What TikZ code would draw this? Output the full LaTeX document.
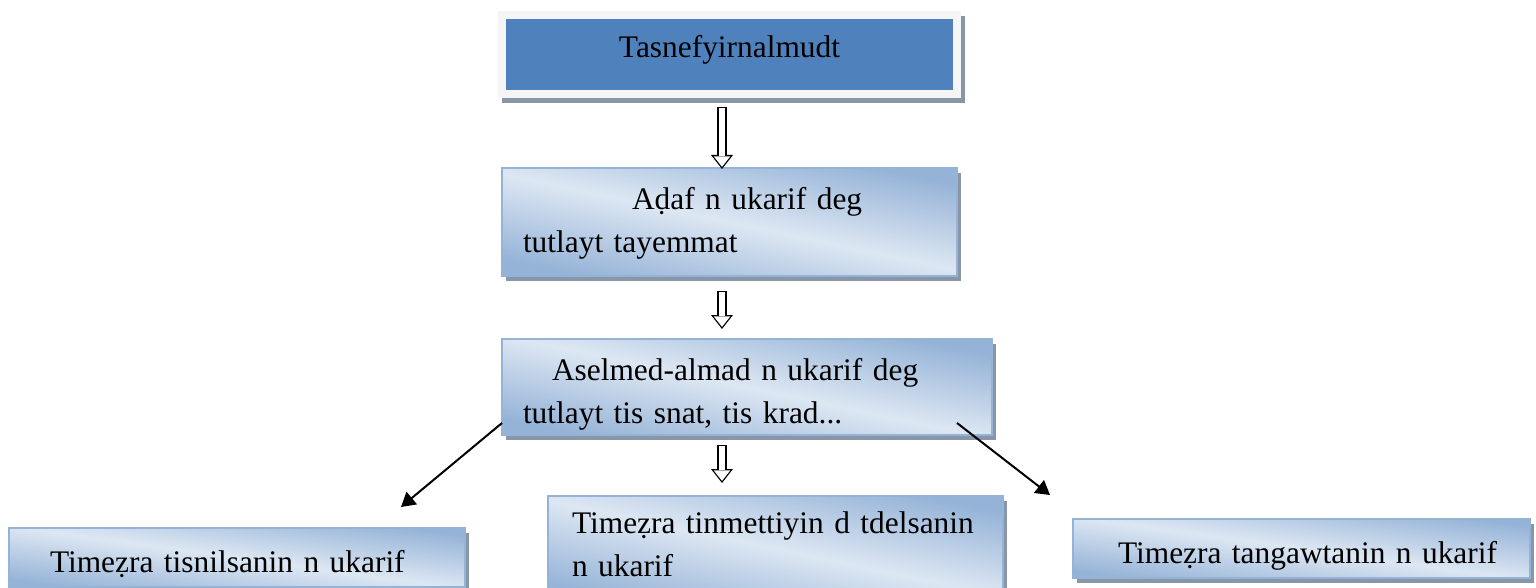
\documentclass[tikz,border=0pt]{standalone}
\usepackage{fontspec}
\setmainfont{Liberation Serif}
\usetikzlibrary{arrows.meta,positioning,shadows}

\definecolor{titleblue}{RGB}{79,129,189}
\definecolor{edgeblue}{RGB}{149,179,215}
\definecolor{paleblue}{RGB}{221,231,243}
\definecolor{shadowgray}{RGB}{137,150,168}

\begin{document}
\begin{tikzpicture}[
				x=0.5pt,y=-0.5pt,
				every node/.style={on grid,outer sep=0pt,font=\fontsize{15.7pt}{21.5pt}\selectfont},
				titlebox/.style={draw=gray!8,line width=4pt,fill=titleblue,
					minimum width=227.5pt,minimum height=39.5pt,text height=7.5pt,text depth=4pt,
					drop shadow={shadow xshift=1.75pt,shadow yshift=-2.5pt,draw=shadowgray,line width=4pt,fill=shadowgray,opacity=1}},
				gradbox/.style={draw=edgeblue,line width=0.8pt,
					top color=edgeblue,bottom color=edgeblue,middle color=paleblue,shading angle=-12,
					inner xsep=10.5pt,inner ysep=0pt,align=left,
					drop shadow={shadow xshift=1.75pt,shadow yshift=-2.5pt,fill=shadowgray,opacity=1}},
				oneline/.style={gradbox,shading angle=-8,minimum height=29.5pt,text height=18.5pt,text depth=4pt},
				hollow/.style={white,line width=3.45pt,shorten <=0.65pt,shorten >=1.05pt,
					-{Triangle[length=5.3pt,width=8.3pt,line width=0pt]},
					preaction={draw=black,line width=4.75pt,shorten <=0pt,shorten >=0pt,
						-{Triangle[length=7pt,width=11pt,line width=0pt]}}},
				pointer/.style={->,line width=1pt},
				>={Triangle[length=7pt,width=8pt]}
				]
				\useasboundingbox (0,0) rectangle (1536,588);
				
				% the column of boxes
				\node[titlebox] (title) at (729.5,54.5) {Tasnefyirnalmudt};
				\node[gradbox,below=83.75pt of title,minimum width=227.5pt,minimum height=54pt,
					text width=206.5pt,text height=13.5pt,text depth=25.5pt] (adaf)
					{\hspace*{54.5pt}Aḍaf n ukarif deg\\tutlayt tayemmat};
				\node[gradbox,below=82.5pt of adaf,xshift=8.75pt,minimum width=245pt,minimum height=48pt,
					text width=224pt,text height=18.5pt,text depth=25.5pt] (aselmed)
					{\hspace*{14.5pt}Aselmed-almad n ukarif deg\\tutlayt tis snat, tis krad...};
				
				% the three kinds
				\node[gradbox,below=80.75pt of aselmed,xshift=14.25pt,minimum width=227.5pt,minimum height=52.5pt,
					inner xsep=0pt,text width=227.5pt,text height=10pt,text depth=25.5pt] (tinmett)
					{\hspace*{12pt}Timeẓra tinmettiyin d tdelsanin\\\hspace*{12pt}n ukarif};
				\node[oneline,below left=85.25pt and 255pt of aselmed,minimum width=228pt,
					text width=207pt] (tisnil)
					{\hspace*{10pt}Timeẓra tisnilsanin n ukarif};
				\node[oneline,below right=80.75pt and 277.25pt of aselmed,minimum width=228.5pt,
					text width=207.5pt] (tangaw)
					{\hspace*{12pt}Timeẓra tangawtanin n ukarif};
				
				% the arrows
				\draw[hollow] ([xshift=-3.75pt,yshift=-6.5pt]title.south) -- ([xshift=-3.75pt,yshift=-0.5pt]adaf.north);
				\draw[hollow] ([xshift=-3.75pt,yshift=-7.5pt]adaf.south) -- ([xshift=-12.5pt,yshift=5pt]aselmed.north);
				\draw[hollow] ([xshift=-12.5pt,yshift=-5pt]aselmed.south) -- ([xshift=-26.75pt,yshift=6.5pt]tinmett.north);
				\draw[pointer] ([yshift=6pt]aselmed.south west) -- ([xshift=-32pt,yshift=10.5pt]tisnil.north east);
				\draw[pointer] ([xshift=-17.5pt,yshift=6pt]aselmed.south east) -- ([xshift=-11.5pt,yshift=12pt]tangaw.north west);
			\end{tikzpicture}
\end{document}
